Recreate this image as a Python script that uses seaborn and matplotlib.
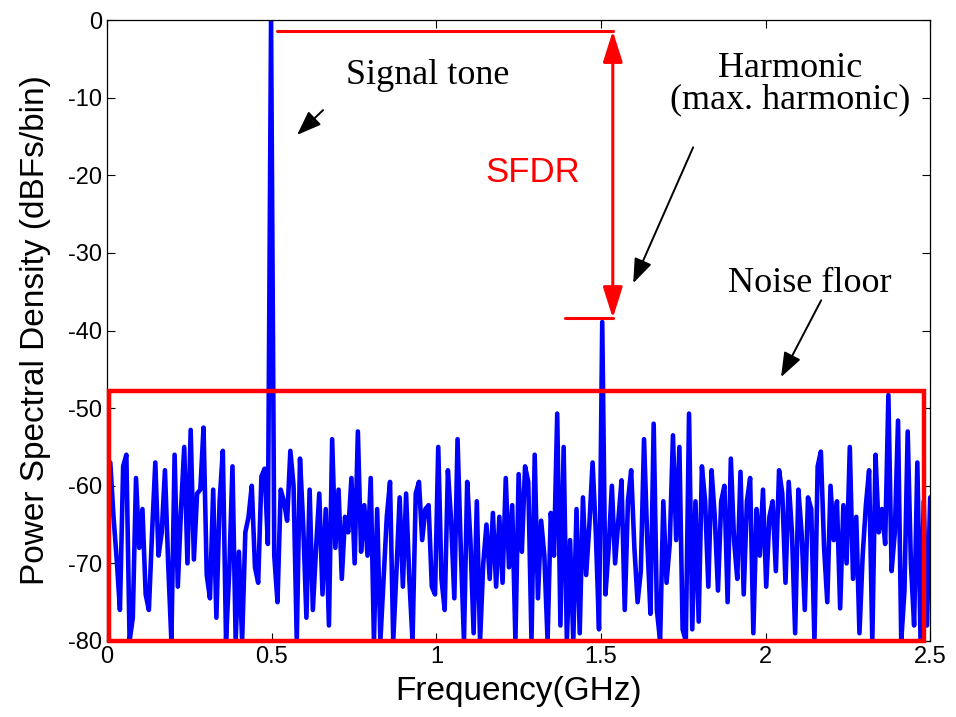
import numpy as np
import matplotlib
matplotlib.use("Agg")
import matplotlib.pyplot as plt
import seaborn as sns
from matplotlib.patches import Rectangle

# PSD of the ADC output, one value per FFT bin (dBFs/bin), 0 .. 2.5 GHz
psd_db = [
    -70, -57, -64, -69.5, -76, -57.5, -56, -80, -77, -59,
    -68, -63, -74, -76, -66, -57, -69, -66, -58, -70,
    -80, -56, -73, -63, -55, -70, -52.8, -69.5, -61, -60.5,
    -52.5, -71.5, -74.5, -60.5, -77, -62, -55.5, -80, -71, -57.5,
    -80, -68.5, -80, -66, -64, -60, -70.5, -72.5, -58.8, -57.8,
    -67.5, 0, -69, -75, -60.5, -62, -64.5, -55.5, -60, -80,
    -56.5, -65, -77, -60.5, -76, -68, -61, -74, -63, -78,
    -54, -68, -60.5, -72, -64, -66, -59, -70, -53, -68.5,
    -62.5, -69, -59, -80, -63, -80, -72, -64, -59.5, -80,
    -71, -61.5, -73, -61, -72, -80, -61, -59.5, -67, -63,
    -62.5, -73, -74, -55, -72, -76, -58, -64.5, -74.5, -54,
    -68, -80, -59.5, -67, -79, -62, -80, -70, -65, -72,
    -63.5, -73, -64, -72.5, -59, -70.5, -62.5, -80, -58.5, -68.5,
    -57.5, -59.5, -80, -56, -74.5, -64.5, -69, -80, -63.5, -69,
    -50.7, -78, -55, -80, -67, -80, -63, -79, -61.5, -71.5,
    -65, -57, -66, -78.5, -38.9, -74, -68, -60, -70, -64.5,
    -59.3, -76, -62, -58, -68, -75, -71, -54, -67, -76.5,
    -52, -76, -80, -62, -72.5, -67.5, -53.5, -67, -55, -78.5,
    -80, -50.7, -78.5, -62, -77.5, -57.5, -62, -73, -58, -64,
    -73.5, -62, -60, -75, -56.5, -67, -72, -58.2, -74, -62,
    -59, -79, -63, -69, -60.5, -73, -64, -62, -71, -58,
    -61, -72.5, -59.5, -66, -79, -60.5, -66, -76, -61.5, -63,
    -80, -57.5, -55.6, -68, -75, -60, -67, -62, -75.8, -62.5,
    -70, -55, -72, -64, -79, -69, -62.5, -58, -80, -56,
    -66, -63, -67.5, -48.3, -71, -66, -51.6, -80, -73.5, -53,
    -70, -78, -57, -80, -62, -78, -61.5,
]
f_max = 2.5
freq_ghz = np.linspace(0, f_max, len(psd_db))

x_ticks = [0, 0.5, 1, 1.5, 2, 2.5]
x_tick_labels = ["0", "0.5", "1", "1.5", "2", "2.5"]
y_ticks = [0, -10, -20, -30, -40, -50, -60, -70, -80]

# SFDR marker: carrier level, max harmonic level, where the arrow sits
sfdr_top_db = -1.4
sfdr_bottom_db = -38.4
sfdr_x = 1.536
sfdr_line_start = 0.517
harm_line_start = 1.391

# noise floor box
noise_x0, noise_x1 = 0.006, 2.482
noise_y0, noise_y1 = -80, -47.8

sns.set_style("ticks")
plt.rcParams["font.family"] = ["Liberation Sans", "DejaVu Sans"]
plt.rcParams["axes.unicode_minus"] = False
plt.rcParams["text.color"] = "black"
plt.rcParams["axes.labelcolor"] = "black"

fig = plt.figure(figsize=(9.56, 7.17), dpi=100)
ax = fig.add_axes([0.112, 0.106, 0.861, 0.866])

sns.lineplot(x=freq_ghz, y=psd_db, color="#0000ff", linewidth=3.3, ax=ax, zorder=2)

ax.set_xlim(0, 2.5)
ax.set_ylim(-80, 0)
ax.set_xticks(x_ticks)
ax.set_xticklabels(x_tick_labels)
ax.set_yticks(y_ticks)
ax.set_yticklabels([str(v) for v in y_ticks])
ax.tick_params(direction="in", length=6, width=0.8, labelsize=17,
               top=True, right=True, colors="black")
for s in ax.spines.values():
    s.set_visible(True)
    s.set_linewidth(0.9)
    s.set_color("black")
ax.set_xlabel("Frequency(GHz)", fontsize=24, labelpad=6)
ax.set_ylabel("Power Spectral Density (dBFs/bin)", fontsize=24, labelpad=12)

# noise floor box
ax.add_patch(Rectangle((noise_x0, noise_y0), noise_x1 - noise_x0, noise_y1 - noise_y0,
                       fill=False, edgecolor="red", linewidth=3.2, clip_on=False, zorder=3))

# SFDR lines and double arrow
ax.plot([sfdr_line_start, sfdr_x], [sfdr_top_db, sfdr_top_db], color="red", lw=2.2, zorder=4)
ax.plot([harm_line_start, sfdr_x], [sfdr_bottom_db, sfdr_bottom_db], color="red", lw=2.2, zorder=4)
ax.annotate("", xy=(sfdr_x, sfdr_top_db), xytext=(sfdr_x, sfdr_bottom_db),
            arrowprops=dict(arrowstyle="<|-|>,head_length=0.95,head_width=0.3",
                            color="red", lw=2.2, shrinkA=0, shrinkB=0, mutation_scale=20),
            zorder=4)
ax.text(1.294, -19.6, "SFDR", color="red", fontsize=25, ha="center", va="center")

serif = ["Liberation Serif", "DejaVu Serif"]
arrow_kw = dict(arrowstyle="-|>,head_length=0.75,head_width=0.28", color="black",
                lw=1.4, shrinkA=0, shrinkB=0, mutation_scale=20)

ax.text(0.975, -7.1, "Signal tone", family=serif, fontsize=26, ha="center", va="center")
ax.annotate("", xy=(0.577, -14.8), xytext=(0.656, -11.6), arrowprops=arrow_kw)

ax.text(2.075, -6.2, "Harmonic", family=serif, fontsize=26, ha="center", va="center")
ax.text(2.075, -10.3, "(max. harmonic)", family=serif, fontsize=26, ha="center", va="center")
ax.annotate("", xy=(1.598, -33.9), xytext=(1.780, -16.4), arrowprops=arrow_kw)

ax.text(2.135, -34.0, "Noise floor", family=serif, fontsize=26, ha="center", va="center")
ax.annotate("", xy=(2.047, -46.0), xytext=(2.169, -36.1), arrowprops=arrow_kw)

fig.savefig("out.png", dpi=100)
